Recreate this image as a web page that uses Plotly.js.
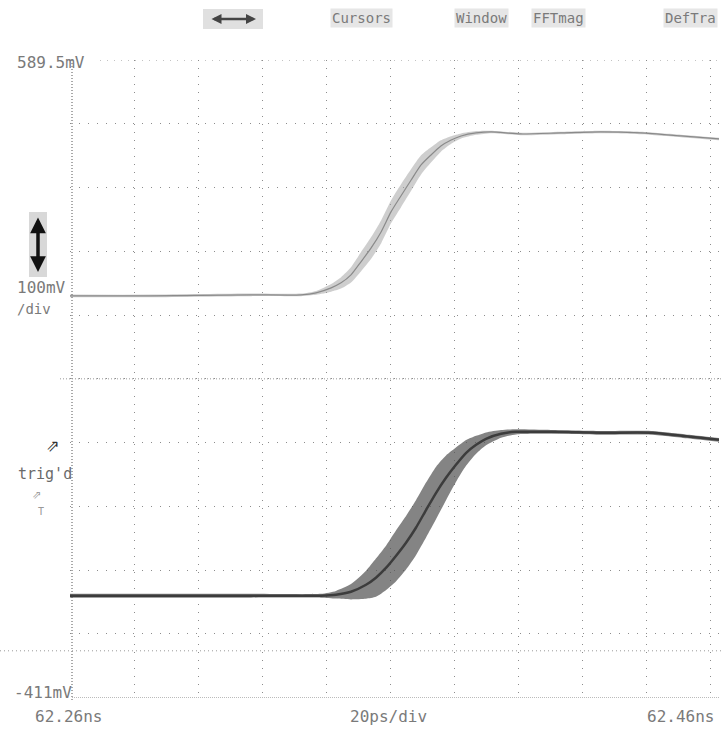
<!DOCTYPE html>
<html>
<head>
<meta charset="utf-8">
<script src="https://cdn.plot.ly/plotly-3.0.1.min.js"></script>
<style>html,body{margin:0;padding:0;background:#fff;}#chart{width:721px;height:729px;}</style>
</head>
<body>
<div id="chart"></div>
<script>
// ---- data (time in ps from 62.26 ns, voltage in mV) ----
const topTime   = [0, 25.3, 56.6, 72.2, 76.9, 81.6, 84.7, 87.8, 90.9, 94.1, 97.2, 100.3, 103.4, 106.6, 109.7, 112.8, 115.9, 119.1, 122.2, 126.9, 131.6, 140.9, 153.4, 165.9, 178.4, 190.9, 202.8];
const topVolt   = [219.6, 219.6, 221.2, 221.2, 224.3, 232.1, 240.0, 252.5, 272.9, 294.8, 319.9, 351.3, 376.3, 401.4, 425.0, 440.6, 454.7, 464.1, 470.4, 475.1, 476.7, 473.5, 475.1, 476.7, 475.1, 470.4, 465.7];
const topSpread = [2, 2, 2, 2, 3, 6, 9, 12, 15, 17, 18, 18, 18, 17, 15, 12, 9, 6, 4, 3, 2, 2, 2, 2, 2, 2, 2];

const botTime   = [0, 25.3, 56.6, 78.4, 83.1, 87.8, 92.5, 95.6, 98.8, 101.9, 105.0, 108.1, 111.3, 114.4, 117.5, 120.6, 123.8, 126.9, 130.0, 134.7, 139.4, 150.3, 165.9, 181.6, 194.1, 202.8];
const botVolt   = [-250.6, -250.6, -250.6, -250.6, -249.1, -244.4, -233.4, -222.4, -206.7, -187.9, -167.5, -144.0, -115.8, -89.2, -65.7, -45.3, -26.5, -13.9, -4.5, 3.3, 6.4, 6.4, 4.9, 4.9, -1.4, -6.1];
const botSpread = [3, 3, 3, 3, 6, 12, 22, 30, 35, 40, 42, 43, 43, 41, 35, 27, 20, 14, 10, 6, 4, 3, 3, 3, 3, 3];

const yTop = 589.5, yBottom = -411;
const timeRange = [0, 202.8];

// ---- geometry helpers (pixel -> paper) ----
const W = 721, H = 729, ML = 70, MR = 2, MT = 60, MB = 31;
const PW = W - ML - MR, PH = H - MT - MB;
const px = x => (x - ML) / PW;
const py = y => (H - MB - y) / PH;

function band(t, v, s, fill, lineColor, lineWidth) {
  const lo = v.map((d, i) => d - s[i]);
  const hi = v.map((d, i) => d + s[i]);
  return [
    {x: t, y: lo, mode: 'lines', line: {width: 0, color: fill, shape: 'spline', smoothing: 0.6}, hoverinfo: 'skip', showlegend: false},
    {x: t, y: hi, mode: 'lines', line: {width: 0, color: fill, shape: 'spline', smoothing: 0.6}, fill: 'tonexty', fillcolor: fill, hoverinfo: 'skip', showlegend: false},
    {x: t, y: v, mode: 'lines', line: {width: lineWidth, color: lineColor, shape: 'spline', smoothing: 0.6}, showlegend: false}
  ];
}

const traces = [
  ...band(topTime, topVolt, topSpread, 'rgba(165,165,165,0.55)', '#8a8a8a', 1.2),
  ...band(botTime, botVolt, botSpread, 'rgba(85,85,85,0.72)', '#3c3c3c', 2.5)
];

const mono = 'DejaVu Sans Mono, Liberation Mono, monospace';
function txt(text, x, y, opts) {
  return Object.assign({text: text, xref: 'paper', yref: 'paper', x: px(x), y: py(y), showarrow: false,
    xanchor: 'left', yanchor: 'middle', font: {family: mono, size: 16, color: '#7a7a7a'}}, opts || {});
}

const annotations = [
  txt('589.5mV', 15, 62),
  txt('100mV', 15, 287),
  txt('/div', 15, 309, {font: {family: mono, size: 14, color: '#7a7a7a'}}),
  txt("trig'd", 16, 474, {font: {family: mono, size: 15, color: '#6a6a6a'}}),
  txt('⇗', 44, 443, {font: {family: mono, size: 22, color: '#333'}}),
  txt('⇗', 30, 493, {font: {family: mono, size: 15, color: '#999'}}),
  txt('T', 36, 512, {font: {family: mono, size: 10, color: '#999'}}),
  txt('-411mV', 12, 692),
  txt('62.26ns', 68, 716, {xanchor: 'center'}),
  txt('20ps/div', 388, 716, {xanchor: 'center'}),
  txt('62.46ns', 716, 716, {xanchor: 'right'}),
  txt('Cursors', 361, 18, {xanchor: 'center', font: {family: mono, size: 14, color: '#7a7a7a'}, bgcolor: '#e6e6e6'}),
  txt('Window', 481, 18, {xanchor: 'center', font: {family: mono, size: 14, color: '#7a7a7a'}, bgcolor: '#e6e6e6'}),
  txt('FFTmag', 558, 18, {xanchor: 'center', font: {family: mono, size: 14, color: '#7a7a7a'}, bgcolor: '#e6e6e6'}),
  txt('DefTra', 690, 18, {xanchor: 'center', font: {family: mono, size: 14, color: '#7a7a7a'}, bgcolor: '#e6e6e6'}),
  // vertical double arrow icon
  {xref: 'paper', yref: 'paper', x: px(38), y: py(272), ax: px(38), ay: py(216), axref: 'paper', ayref: 'paper',
   showarrow: true, arrowhead: 2, arrowside: 'end+start', arrowwidth: 3.5, arrowsize: 0.9, arrowcolor: '#111', text: ''},
  // horizontal double arrow icon in the menu
  {xref: 'paper', yref: 'paper', x: px(256), y: py(19), ax: px(210), ay: py(19), axref: 'paper', ayref: 'paper',
   showarrow: true, arrowhead: 2, arrowside: 'end+start', arrowwidth: 2.5, arrowsize: 0.8, arrowcolor: '#444', text: ''}
];

const shapes = [
  // stippled icon backgrounds
  {type: 'rect', xref: 'paper', yref: 'paper', x0: px(29), x1: px(47), y0: py(212), y1: py(277), fillcolor: '#d8d8d8', line: {width: 0}, layer: 'below'},
  {type: 'rect', xref: 'paper', yref: 'paper', x0: px(203), x1: px(263), y0: py(9), y1: py(29), fillcolor: '#e0e0e0', line: {width: 0}, layer: 'below'},
  // left border
  {type: 'line', xref: 'paper', yref: 'paper', x0: px(72), x1: px(72), y0: py(60), y1: py(700), line: {color: '#555', width: 1, dash: '1px,2px'}},
  // bottom border
  {type: 'line', xref: 'paper', yref: 'y', x0: px(72), x1: px(719), y0: yBottom, y1: yBottom, line: {color: '#777', width: 1, dash: '1px,1px'}},
  // top border
  {type: 'line', xref: 'paper', yref: 'y', x0: px(100), x1: px(719), y0: yTop, y1: yTop, line: {color: '#888', width: 1, dash: '1px,6px'}},
  // centre line extended
  {type: 'line', xref: 'paper', yref: 'y', x0: px(60), x1: px(721), y0: 89.5, y1: 89.5, line: {color: '#999', width: 1, dash: '1px,2px'}},
  // lower reference line
  {type: 'line', xref: 'paper', yref: 'y', x0: px(0), x1: px(721), y0: -337, y1: -337, line: {color: '#999', width: 1, dash: '1px,3px'}}
];

const layout = {
  width: W, height: H,
  margin: {l: ML, r: MR, t: MT, b: MB, pad: 0},
  paper_bgcolor: '#fff', plot_bgcolor: '#fff',
  showlegend: false,
  xaxis: {range: timeRange, tick0: 0, dtick: 20, showgrid: true, gridcolor: '#8c8c8c', griddash: '1px,7px', gridwidth: 1,
          showticklabels: false, ticks: '', zeroline: false, showline: false, fixedrange: true},
  yaxis: {range: [yBottom, yTop], tick0: -10.5, dtick: 100, showgrid: true, gridcolor: '#8c8c8c', griddash: '1px,8px', gridwidth: 1,
          showticklabels: false, ticks: '', zeroline: false, showline: false, fixedrange: true},
  annotations: annotations,
  shapes: shapes
};

Plotly.newPlot('chart', traces, layout, {staticPlot: true, displayModeBar: false});
</script>
</body>
</html>
